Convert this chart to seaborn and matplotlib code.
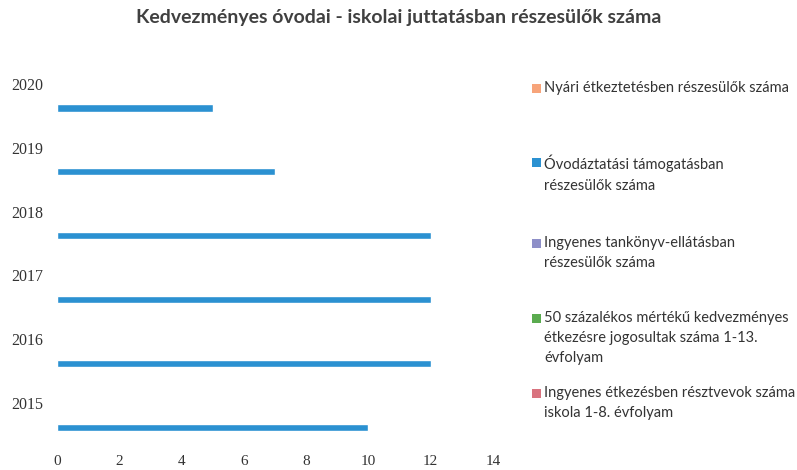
import pandas as pd
import matplotlib.pyplot as plt
from matplotlib.patches import Rectangle
import seaborn as sns

years = ['2020', '2019', '2018', '2017', '2016', '2015']
nyari = [0, 0, 0, 0, 0, 0]
ovodaztatasi = [5, 7, 12, 12, 12, 10]
tankonyv = [0, 0, 0, 0, 0, 0]
kedvezmenyes_50 = [0, 0, 0, 0, 0, 0]
ingyenes_etkezes = [0, 0, 0, 0, 0, 0]

series_names = ['Nyári étkeztetésben részesülők száma',
                'Óvodáztatási támogatásban\nrészesülők száma',
                'Ingyenes tankönyv-ellátásban\nrészesülők száma',
                '50 százalékos mértékű kedvezményes\nétkezésre jogosultak száma 1-13.\névfolyam',
                'Ingyenes étkezésben résztvevok száma\niskola 1-8. évfolyam']
series_values = [nyari, ovodaztatasi, tankonyv, kedvezmenyes_50, ingyenes_etkezes]
colors = ['#f7a47a', '#2b91d1', '#8e8fc8', '#5aab4f', '#d9737f']

rows = []
for name, vals in zip(series_names, series_values):
    for y, v in zip(years, vals):
        rows.append({'Év': y, 'Sorozat': name, 'Érték': v})
df = pd.DataFrame(rows)

# Excel draws the first series at the bottom of each group
hue_order = [series_names[0], series_names[2], series_names[3],
             series_names[4], series_names[1]]
palette = dict(zip(series_names, colors))

sns.set_style('white')
fig = plt.figure(figsize=(7.97, 4.70), dpi=100)
ax = fig.add_axes([0.0715, 0.053, 0.547, 0.815])

sns.barplot(data=df, x='Érték', y='Év', hue='Sorozat', order=years,
            hue_order=hue_order, palette=palette, orient='h',
            width=0.55, ax=ax, legend=False, saturation=1)

ax.set_xlim(0, 14)
ax.set_xticks(range(0, 15, 2))
ax.set_ylim(5.5, -0.5)
ax.set_xlabel('')
ax.set_ylabel('')
sns.despine(ax=ax, left=True, bottom=True)
ax.tick_params(axis='both', length=0)
ax.tick_params(axis='y', pad=10)
ax.tick_params(axis='x', pad=7)
for lab in ax.get_yticklabels():
    lab.set_fontfamily('Liberation Serif')
    lab.set_fontsize(11.5)
    lab.set_color('#333333')
    lab.set_va('bottom')
for lab in ax.get_xticklabels():
    lab.set_fontfamily('Liberation Serif')
    lab.set_fontsize(11)
    lab.set_color('#333333')

fig.text(0.5, 0.962, 'Kedvezményes óvodai - iskolai juttatásban részesülők száma',
         ha='center', va='center', fontsize=14, fontweight='bold',
         family='Lato', color='#404040')

# legend on the right, entries spaced like the original
legend_tops = [88, 162, 243, 318, 393]
for name, col, top in zip(series_names, colors, legend_tops):
    yf = 1 - top / 470
    fig.add_artist(Rectangle((532 / 797, yf - 5 / 470), 9 / 797, 9 / 470,
                             transform=fig.transFigure, color=col, lw=0))
    fig.text(544 / 797, yf + 7 / 470, name, ha='left', va='top',
             fontsize=10.5, family='Lato', color='#333333', linespacing=1.55)

fig.savefig('out.png', dpi=100)
